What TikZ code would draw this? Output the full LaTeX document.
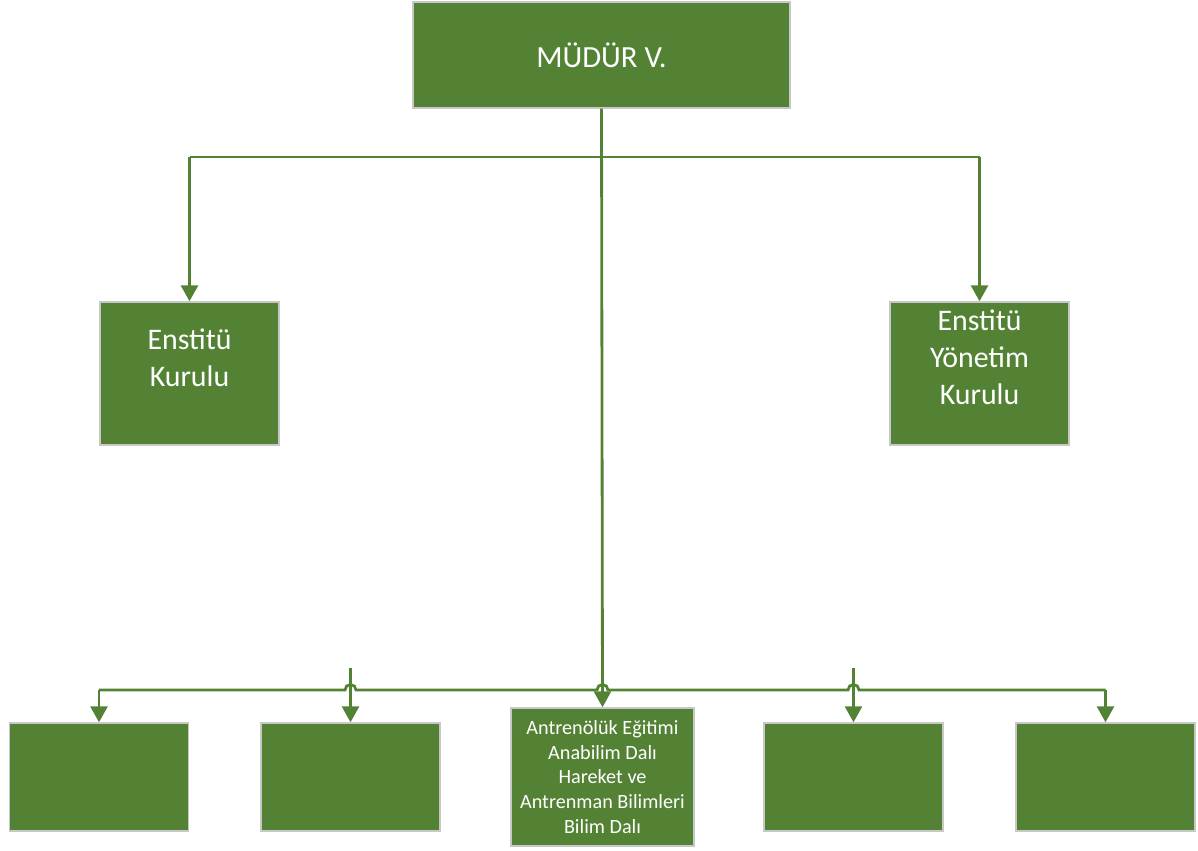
\documentclass[tikz,border=0pt]{standalone}
\usepackage{fontspec}
\setmainfont{Carlito}
\usetikzlibrary{calc, arrows.meta}

\definecolor{boxgreen}{HTML}{548235}
\definecolor{edgegray}{HTML}{C8C8C8}

\tikzset{
    unit/.style={rectangle, fill=boxgreen, draw=edgegray, line width=0.8pt, text=white, align=center, inner sep=2pt},
    board/.style={unit, minimum width=3.58cm, minimum height=2.86cm},
    boardtext/.style={label={[text=white, align=center, yshift=0.32cm, font=\fontsize{17}{21}\selectfont]center:#1}},
    conn/.style={draw=boxgreen, line width=1.6pt},
    arr/.style={conn, -{Triangle[width=0.34cm, length=0.32cm]}}
}

\begin{document}
\begin{tikzpicture}
            \useasboundingbox (0, 0) rectangle (23.96, 17);
            % upper levels
            \node[unit, minimum width=7.54cm, minimum height=2.12cm, font=\fontsize{17.5}{21}\selectfont] (mudur) at (12.03, 15.9) {MÜDÜR V.};
            \node[board, boardtext={Enstitü\\Kurulu}] (kurul) at (3.79, 9.53) {};
            \node[board, boardtext={Enstitü\\Yönetim\\Kurulu}] (yonetim) at (19.59, 9.53) {};
            % lower level
            \foreach \x/\n in {1.98/b1, 7.01/b2, 17.07/b4, 22.11/b5} {
                \node[unit, minimum width=3.58cm, minimum height=2.16cm] (\n) at (\x, 1.46) {};
            }
            \node[unit, minimum width=3.66cm, minimum height=2.76cm, font=\fontsize{11.5}{14}\selectfont] (dal) at (12.05, 1.46) {Antrenölük Eğitimi\\Anabilim Dalı\\Hareket ve\\Antrenman Bilimleri\\Bilim Dalı};

            % top bus
            \coordinate (topL) at (kurul.north |- 0, 13.86);
            \coordinate (topR) at (yonetim.north |- 0, 13.86);
            \draw[conn] (topL) -- (topR);
            \draw[arr] (topL) -- (kurul.north);
            \draw[arr] (topR) -- (yonetim.north);

            % bottom bus with hops
            \coordinate (busL) at (b1.north |- 0, 3.2);
            \coordinate (busR) at (b5.north |- 0, 3.2);
            \coordinate (hopA) at (b2.north |- 0, 3.2);
            \coordinate (hopB) at (dal.north |- 0, 3.2);
            \coordinate (hopC) at (b4.north |- 0, 3.2);
            \draw[conn] (busL) -- ($(hopA) - (0.11, 0)$) arc[start angle=180, end angle=0, radius=0.11]
                -- ($(hopB) - (0.11, 0)$) arc[start angle=180, end angle=0, radius=0.11]
                -- ($(hopC) - (0.11, 0)$) arc[start angle=180, end angle=0, radius=0.11]
                -- (busR);
            \coordinate (tapA) at (b2.north |- 0, 3.64);
            \coordinate (tapC) at (b4.north |- 0, 3.64);
            \draw[arr] (busL) -- (b1.north);
            \draw[arr] (busR) -- (b5.north);
            \draw[arr] (tapA) -- (b2.north);
            \draw[arr] (tapC) -- (b4.north);

            % main trunk
            \draw[arr] (mudur.south) -- (dal.north);
\end{tikzpicture}
\end{document}
